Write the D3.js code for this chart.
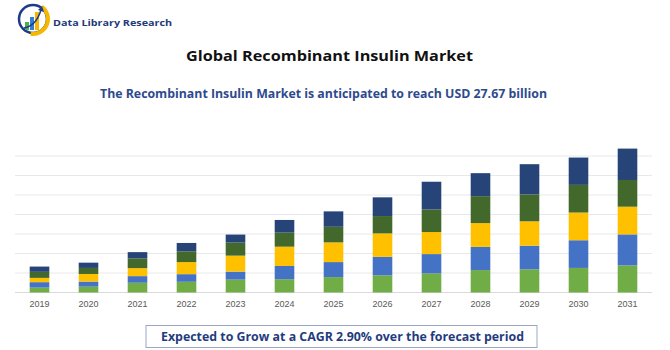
<!DOCTYPE html>
<html>
<head>
<meta charset="utf-8">
<script src="https://cdn.jsdelivr.net/npm/d3@7"></script>
<style>
  body { margin: 0; background: #fff; }
  svg { display: block; }
</style>
</head>
<body>
<div id="chart" style="width:670px;height:350px"></div>
<script>
// values, one gridline = 1 unit
var years = ["2019","2020","2021","2022","2023","2024","2025","2026","2027","2028","2029","2030","2031"];
var seg1 = [0.25,0.30,0.50,0.55,0.66,0.68,0.79,0.88,0.98,1.15,1.19,1.26,1.39];
var seg2 = [0.28,0.26,0.34,0.39,0.41,0.68,0.77,0.95,0.99,1.19,1.21,1.42,1.59];
var seg3 = [0.22,0.39,0.41,0.62,0.82,0.99,1.01,1.20,1.13,1.22,1.25,1.42,1.42];
var seg4 = [0.31,0.31,0.50,0.55,0.67,0.72,0.80,0.89,1.16,1.38,1.38,1.42,1.37];
var seg5 = [0.27,0.27,0.32,0.43,0.41,0.65,0.79,0.96,1.42,1.18,1.55,1.40,1.61];
var yTicks = [0,1,2,3,4,5,6,7];
var keys = ["s1","s2","s3","s4","s5"];
var colors = ["#70ad47","#4472c4","#ffc000","#43682b","#264478"];

var w = 670, h = 350;
var svg = d3.select("#chart").append("svg").attr("width", w).attr("height", h);

var rows = years.map(function(y, i){
  return {year: y, s1: seg1[i], s2: seg2[i], s3: seg3[i], s4: seg4[i], s5: seg5[i]};
});

var x = d3.scaleBand().domain(years).range([15, 652]).paddingInner(0.6).paddingOuter(0.3);
var y = d3.scaleLinear().domain([0, 8]).range([292.5, 136.5]);

// gridlines
svg.append("g").selectAll("line").data(yTicks).enter().append("line")
  .attr("x1", 15).attr("x2", 652)
  .attr("y1", function(d){ return y(d); }).attr("y2", function(d){ return y(d); })
  .attr("stroke", function(d){ return d === 0 ? "#d9d9d9" : "#e8e8e8"; })
  .attr("stroke-width", 1);

// stacked bars
var stacked = d3.stack().keys(keys)(rows);
svg.append("g").selectAll("g").data(stacked).enter().append("g")
  .attr("fill", function(d, i){ return colors[i]; })
  .selectAll("rect").data(function(d){ return d; }).enter().append("rect")
  .attr("x", function(d){ return x(d.data.year); })
  .attr("width", x.bandwidth())
  .attr("y", function(d){ return y(d[1]); })
  .attr("height", function(d){ return y(d[0]) - y(d[1]); });

// x axis labels
var xAxis = svg.append("g").attr("transform", "translate(0,292.5)")
  .call(d3.axisBottom(x).tickSize(0).tickPadding(8));
xAxis.select(".domain").remove();
xAxis.selectAll("text").attr("fill", "#595959")
  .style("font-family", "Liberation Sans, Arial, sans-serif").style("font-size", "9px");

// titles
svg.append("text").attr("x", 186).attr("y", 61)
  .attr("textLength", 287).attr("lengthAdjust", "spacingAndGlyphs")
  .style("font-family", "Open Sans, sans-serif").style("font-weight", "bold").style("font-size", "13.5px")
  .attr("fill", "#111").text("Global Recombinant Insulin Market");

svg.append("text").attr("x", 100).attr("y", 98)
  .attr("textLength", 447).attr("lengthAdjust", "spacingAndGlyphs")
  .style("font-family", "Open Sans, sans-serif").style("font-weight", "bold").style("font-size", "13px")
  .attr("fill", "#2e4a8e").text("The Recombinant Insulin Market is anticipated to reach USD 27.67 billion");

// footer box
svg.append("rect").attr("x", 146).attr("y", 325.5).attr("width", 391).attr("height", 22)
  .attr("fill", "#fff").attr("stroke", "#9aa8c6").attr("stroke-width", 1);
svg.append("text").attr("x", 161).attr("y", 341)
  .attr("textLength", 363).attr("lengthAdjust", "spacingAndGlyphs")
  .style("font-family", "Open Sans, sans-serif").style("font-weight", "bold").style("font-size", "12.5px")
  .attr("fill", "#1f3c80").text("Expected to Grow at a CAGR 2.90% over the forecast period");

// logo
var logo = svg.append("g");
logo.append("circle").attr("cx", 33).attr("cy", 19).attr("r", 14)
  .attr("fill", "none").attr("stroke", "#1f3a8a").attr("stroke-width", 2.5);
logo.append("path")
  .attr("transform", "translate(33,19)")
  .attr("d", d3.arc().innerRadius(13).outerRadius(17).startAngle(0.6).endAngle(3.3)())
  .attr("fill", "#f5b700");
var lb = [[25, 22, 4, 8, "#4caf50"], [30, 17, 4, 13, "#2f80d0"], [35, 12, 4, 18, "#f5b700"]];
logo.selectAll("rect.lb").data(lb).enter().append("rect")
  .attr("x", function(d){ return d[0]; }).attr("y", function(d){ return d[1]; })
  .attr("width", function(d){ return d[2]; }).attr("height", function(d){ return d[3]; })
  .attr("fill", function(d){ return d[4]; });
logo.append("path").attr("d", "M24 28 Q36 26 41 10").attr("fill", "none")
  .attr("stroke", "#1f3a8a").attr("stroke-width", 1.5);
logo.append("path").attr("d", "M38 10 L42 6 L44 12 Z").attr("fill", "#1f3a8a");
logo.append("text").attr("x", 53).attr("y", 26)
  .attr("textLength", 119).attr("lengthAdjust", "spacingAndGlyphs")
  .style("font-family", "Open Sans, sans-serif").style("font-weight", "bold").style("font-size", "9.5px")
  .attr("fill", "#1f3a7a").text("Data Library Research");
</script>
</body>
</html>
